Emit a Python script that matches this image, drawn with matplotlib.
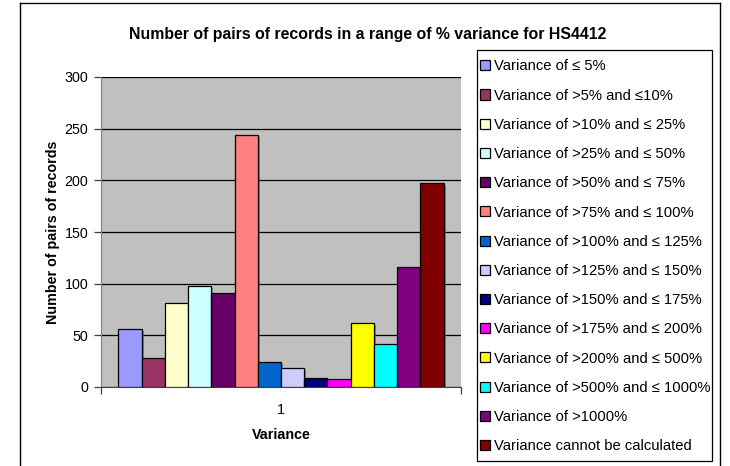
import matplotlib
matplotlib.use("Agg")
import matplotlib.pyplot as plt
from matplotlib.patches import Rectangle
from matplotlib.lines import Line2D
import matplotlib.patheffects as pe

plt.rcParams['font.family'] = ['Liberation Sans', 'DejaVu Sans']

categories = ["Variance of \u2264 5%", "Variance of >5% and \u226410%", "Variance of >10% and \u2264 25%",
              "Variance of >25% and \u2264 50%", "Variance of >50% and \u2264 75%", "Variance of >75% and \u2264 100%",
              "Variance of >100% and \u2264 125%", "Variance of >125% and \u2264 150%", "Variance of >150% and \u2264 175%",
              "Variance of >175% and \u2264 200%", "Variance of >200% and \u2264 500%", "Variance of >500% and \u2264 1000%",
              "Variance of >1000%", "Variance cannot be calculated"]
values = [56, 28, 81, 98, 91, 244, 24, 18, 9, 8, 62, 42, 116, 197]
colors = ["#9999FF", "#993366", "#FFFFCC", "#CCFFFF", "#660066", "#FF8080", "#0066CC",
          "#CCCCFF", "#000080", "#FF00FF", "#FFFF00", "#00FFFF", "#800080", "#800000"]
yticks = [0, 50, 100, 150, 200, 250, 300]

W, H = 730, 466
fig = plt.figure(figsize=(W / 100, H / 100), dpi=100)
ax = fig.add_axes([101 / W, 1 - 387 / H, (461 - 101) / W, (387 - 77) / H])
ax.set_facecolor("#C0C0C0")

n = len(values)
handles = []
for i, (v, c, lab) in enumerate(zip(values, colors, categories)):
    b = ax.bar(i, v, width=1.0, color=c, edgecolor="black", linewidth=0.9, label=lab, zorder=3,
               path_effects=[pe.SimplePatchShadow(offset=(1.5, -1.5), shadow_rgbFace="#606060", alpha=0.6), pe.Normal()])
    handles.append(b)

pad = 0.745
ax.set_xlim(-0.5 - pad, n - 0.5 + pad)
ax.set_ylim(0, 300)
ax.set_yticks(yticks)
ax.set_yticklabels([str(t) for t in yticks], fontsize=10.3)
ax.yaxis.grid(True, color="black", linewidth=0.9, zorder=1)
ax.set_axisbelow(True)
ax.set_xticks([-0.5 - pad, n - 0.5 + pad])
ax.set_xticklabels(["", ""])
ax.tick_params(axis="x", direction="out", length=5, width=0.9, color="#404040")
ax.tick_params(axis="y", direction="out", length=5, width=0.9, color="#404040", pad=4)
ax.text((n - 1) / 2, -22, "1", ha="center", va="center", fontsize=10.3, transform=ax.transData)
for s in ["top", "right"]:
    ax.spines[s].set_visible(False)
ax.spines["left"].set_color("#808080")
ax.spines["bottom"].set_color("#404040")
ax.set_xlabel("Variance", fontsize=10.3, fontweight="bold", labelpad=21)
ax.set_ylabel("Number of pairs of records", fontsize=10.3, fontweight="bold", labelpad=3.5)

fig.text(368 / W, 1 - 35 / H, "Number of pairs of records in a range of % variance for HS4412",
         ha="center", va="center", fontsize=11.4, fontweight="bold")

leg = fig.legend(handles=handles, labels=categories, loc="upper left",
                 bbox_to_anchor=(480 / W, 1 - 59.5 / H), fontsize=10.6, frameon=False,
                 handlelength=0.68, handleheight=0.68, handletextpad=0.27,
                 labelspacing=1.033, borderpad=0, borderaxespad=0)
for h in leg.legend_handles:
    h.set_path_effects([])

# legend box
fig.add_artist(Rectangle((477 / W, 1 - 461 / H), (712 - 477) / W, (461 - 50) / H, fill=False,
                         edgecolor="black", linewidth=0.9, transform=fig.transFigure))

# outer chart frame
fig.add_artist(Line2D([20 / W, 20 / W], [0, 1 - 3 / H], color="black", linewidth=1.0, transform=fig.transFigure))
fig.add_artist(Line2D([20 / W, 720 / W], [1 - 3 / H, 1 - 3 / H], color="black", linewidth=1.0, transform=fig.transFigure))
fig.add_artist(Line2D([720 / W, 720 / W], [0, 1 - 3 / H], color="black", linewidth=1.0, transform=fig.transFigure))

fig.savefig("out.png", dpi=100)
